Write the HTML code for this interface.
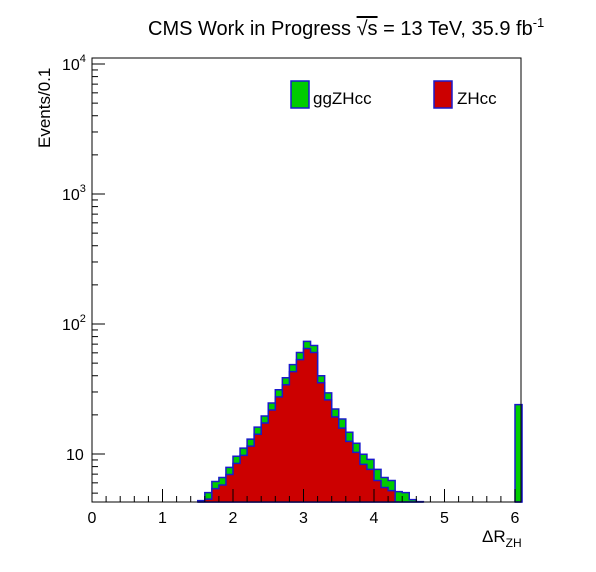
<!DOCTYPE html>
<html><head><meta charset="utf-8"><style>
body{margin:0;background:#fff;}
svg{display:block;font-family:"Liberation Sans",Arial,sans-serif;}
</style></head><body>
<svg id="c" width="596" height="572">
<rect width="596" height="572" fill="#fff"/>
<text x="148" y="35" font-size="20">CMS Work in Progress  <tspan text-decoration="overline">√s</tspan> = 13 TeV, 35.9 fb<tspan dy="-8" font-size="13">-1</tspan></text>
<text transform="translate(50,148) rotate(-90)" font-size="17">Events/0.1</text>
<text x="482" y="542" font-size="17">ΔR<tspan dy="5" font-size="12">ZH</tspan></text>
<g id="bars"></g>
<g id="axes"></g>
<g>
<rect x="291" y="81" width="18" height="27" fill="#00cc00" stroke="#1a1acc" stroke-width="1.5"/>
<text x="313" y="104" font-size="17">ggZHcc</text>
<rect x="434" y="81" width="18" height="27" fill="#cc0000" stroke="#1a1acc" stroke-width="1.5"/>
<text x="457" y="104" font-size="17">ZHcc</text>
</g>
</svg>
<script>
const binStarts=[1.5,1.6,1.7,1.8,1.9,2.0,2.1,2.2,2.3,2.4,2.5,2.6,2.7,2.8,2.9,3.0,3.1,3.2,3.3,3.4,3.5,3.6,3.7,3.8,3.9,4.0,4.1,4.2,4.3,4.4,4.5,4.6,6.0];
const totalVals=[4.38,5.05,6.14,6.59,7.89,9.6,11.1,13.0,16.1,19.6,24.7,31.2,38.6,48.7,60.4,73.5,68.4,40.0,29.5,22.2,18.6,14.7,12.1,9.95,9.1,7.61,6.59,6.25,5.14,5.05,4.46,4.3,24.0];
const zhccVals=[4.0,4.5,5.42,5.78,6.96,8.47,9.77,11.5,14.2,17.3,21.8,27.5,34.1,43.0,53.2,64.8,60.4,35.3,26.1,19.3,15.8,12.5,10.3,8.32,7.61,6.25,5.52,5.23,4.23,4.1,3.5,3.0,2.0];
const xTicks=[0,1,2,3,4,5,6];
const binW=0.1;
const NS="http://www.w3.org/2000/svg";
const X0=92,XR=521,YT=58,YB=502;
const xs=v=>X0+v*70.5;
const ys=v=>454-(Math.log10(v)-1)*130;
function mk(t,a,p){const e=document.createElementNS(NS,t);for(const k in a)e.setAttribute(k,a[k]);p.appendChild(e);return e;}
const bars=document.getElementById('bars');
function drawSeries(vals,fill,name){
  let d='';
  for(let i=0;i<binStarts.length;i++){
    const x1=xs(binStarts[i]),x2=xs(binStarts[i]+binW);
    const y=Math.min(Math.max(ys(vals[i]),YT),YB);
    const prevContig=i>0&&Math.abs(binStarts[i-1]+binW-binStarts[i])<1e-6;
    if(!prevContig) d+='M'+x1+','+YB;
    d+='L'+x1+','+y+'L'+x2+','+y;
    const nextContig=i<binStarts.length-1&&Math.abs(binStarts[i]+binW-binStarts[i+1])<1e-6;
    if(!nextContig) d+='L'+x2+','+YB+'Z';
  }
  const f=mk('path',{d:d,fill:fill,stroke:'none'},bars);
  
  
  const p=mk('path',{d:d,fill:'none',stroke:'#1a1acc','stroke-width':1.5},bars);
  
  
}
drawSeries(totalVals,'#00cc00','ggzhcc');
drawSeries(zhccVals,'#cc0000','zhcc');
const ax=document.getElementById('axes');
const fr=mk('rect',{x:X0,y:YT,width:XR-X0,height:YB-YT,fill:'none',stroke:'#000','stroke-width':1},ax);


for(let k=0;k<=30;k++){
  const v=k*0.2;const x=xs(v);if(x>XR)break;
  const major=k%5===0;
  mk('line',{x1:x,x2:x,y1:YB,y2:YB-(major?13:6),stroke:'#000'},ax);
}
xTicks.forEach(t=>{
  const tx=mk('text',{x:xs(t),y:523,'font-size':16,'text-anchor':'middle'},ax);
  tx.textContent=t;
  
  
});
for(let d=0;d<=4;d++){
  for(let m=1;m<=9;m++){
    const v=m*Math.pow(10,d);const y=ys(v);
    if(y<YT||y>YB)continue;
    mk('line',{x1:X0,x2:X0+(m===1?13:6),y1:y,y2:y,stroke:'#000'},ax);
  }
}
const yl=[[10,'10',''],[100,'10','2'],[1000,'10','3'],[10000,'10','4']];
yl.forEach(a=>{
  const t=mk('text',{x:a[2]?62:66,y:ys(a[0])+6,'font-size':16},ax);
  t.textContent=a[1];
  if(a[2]){const s=mk('tspan',{dy:-8,'font-size':11},t);s.textContent=a[2];}
  
  
});
</script>
</body></html>
